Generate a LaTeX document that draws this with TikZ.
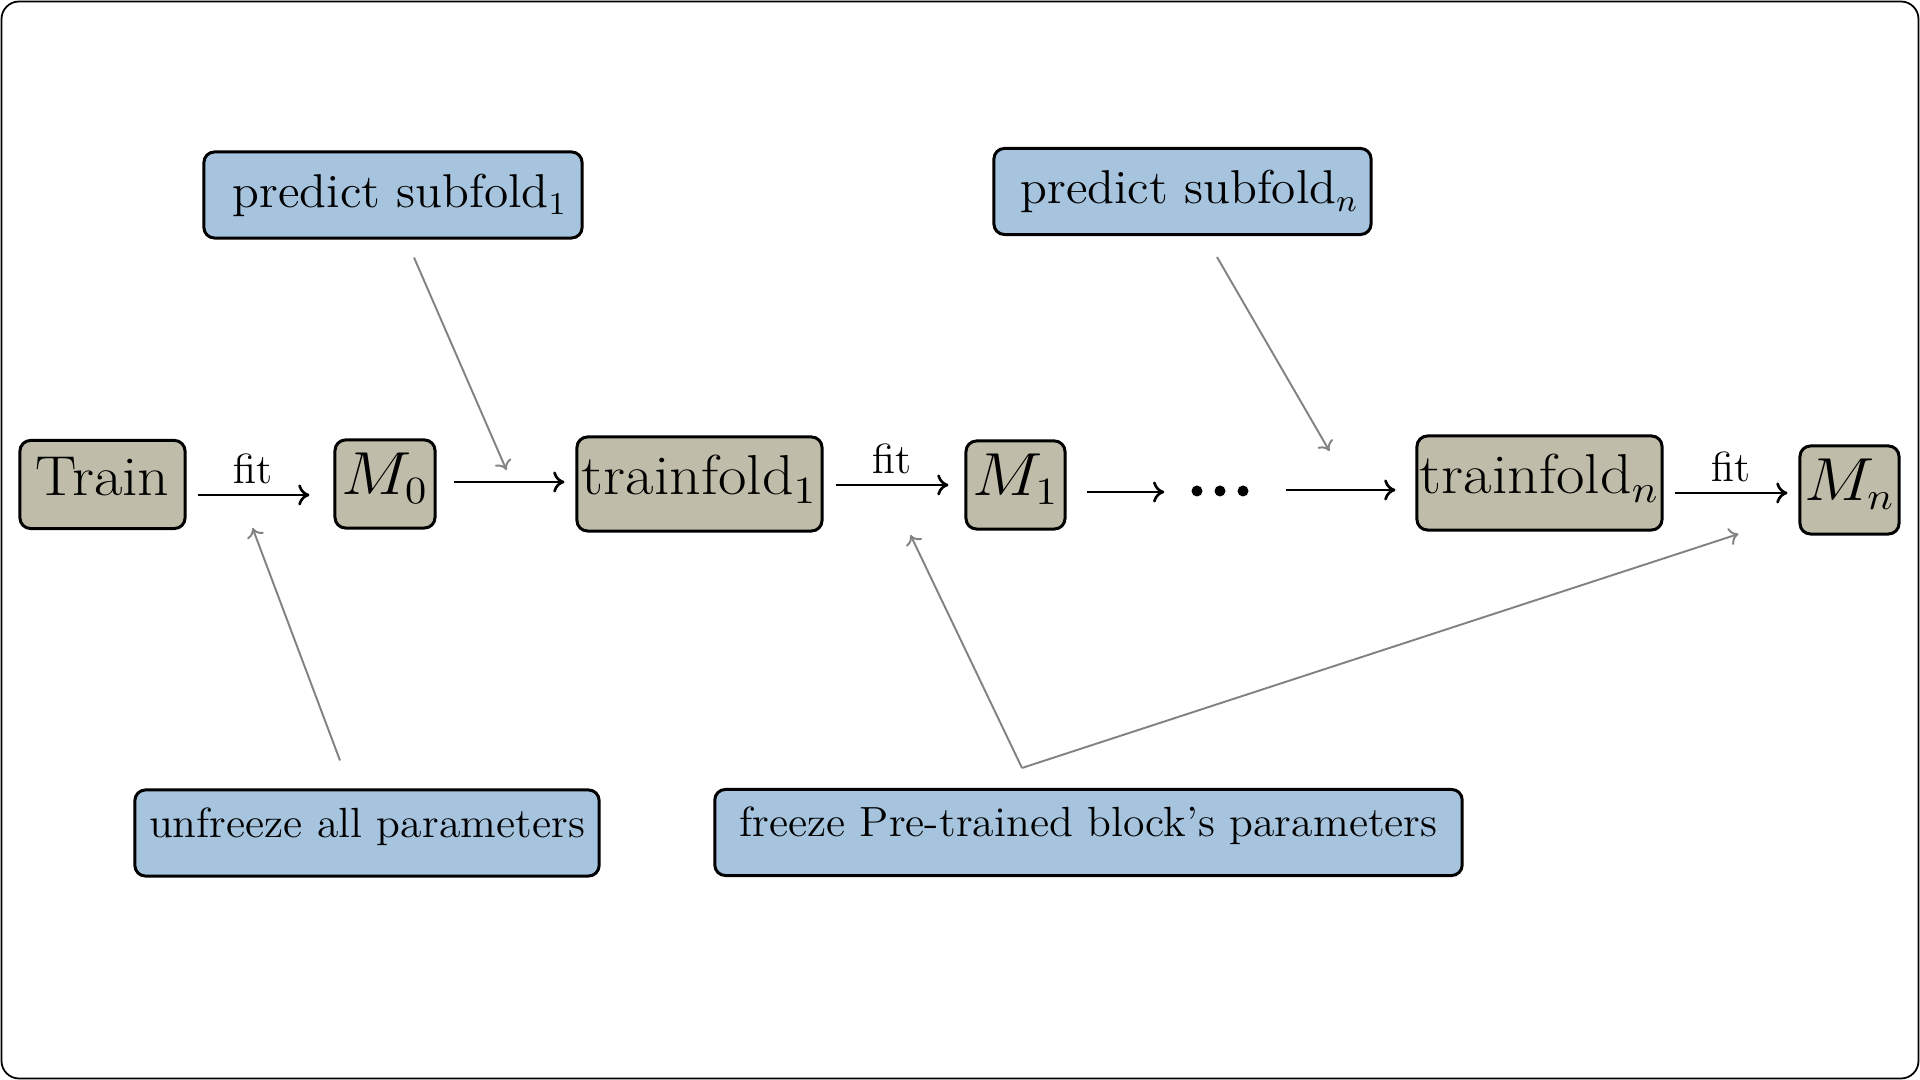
\documentclass[tikz,border=0pt]{standalone}
\usepackage{graphicx}
\usetikzlibrary{calc,arrows.meta}
\definecolor{tanfill}{RGB}{191,189,169}
\definecolor{bluefill}{RGB}{167,196,223}
\definecolor{arrgray}{RGB}{130,130,130}
\newcommand{\wideM}[1]{\scalebox{1.1}[1]{#1}}
\newcommand{\wideN}[1]{\scalebox{1.04}[1]{#1}}
\begin{document}
\begin{tikzpicture}[x=0.01cm,y=-0.01cm,
  mainbox/.style={draw=black,line width=0.85pt,rounded corners=3pt,fill=tanfill,inner sep=0pt,
    font=\fontsize{16}{19}\selectfont,text height=.7em,text depth=.1em,minimum height=0.88cm},
  notebox/.style={draw=black,line width=0.85pt,rounded corners=3pt,fill=bluefill,inner sep=0pt,minimum height=0.86cm},
  flow/.style={line width=0.75pt,-{To[length=3.2pt,width=6pt]}},
  hint/.style={arrgray,line width=0.55pt,-{To[length=2.6pt,width=5pt]}},
  fitlbl/.style={above,inner sep=2.7pt,font=\fontsize{12}{14}\selectfont}]
\useasboundingbox (0,0) rectangle (1920,1080);
\draw[line width=0.5pt,rounded corners=5pt] (1.5,1.5) rectangle (1918.5,1078.5);

% main chain
\node[mainbox,minimum width=1.65cm] (train) at (102.5,484.5) {\wideM{Train}};
\node[mainbox,minimum width=1.0cm] (m0) at (385,484) {\wideM{$M_0$}};
\node[mainbox,minimum width=2.45cm,minimum height=0.94cm] (tf1) at (699.5,484) {\wideM{trainfold$_1$}};
\node[mainbox,minimum width=0.99cm] (m1) at (1015.5,485) {\wideM{$M_1$}};
\node[inner sep=0pt,minimum width=0.6cm,minimum height=0.14cm] (dots) at (1220,491) {};
\fill (dots.center) circle (5.5) ($(dots.center)+(-23,0)$) circle (5.5) ($(dots.center)+(23,0)$) circle (5.5);
\node[mainbox,minimum width=2.45cm,minimum height=0.94cm] (tfn) at (1539.5,483) {\wideM{trainfold$_n$}};
\node[mainbox,minimum width=0.99cm] (mn) at (1849.5,490) {\wideM{$M_n$}};

% note boxes
\node[notebox,minimum width=3.78cm,font=\fontsize{13.5}{16}\selectfont] (p1) at (393,195) {\hspace*{0.14cm}\wideN{predict subfold$_1$}};
\node[notebox,minimum width=3.77cm,font=\fontsize{13.5}{16}\selectfont] (pn) at (1182.5,191.5) {\hspace*{0.14cm}\wideN{predict subfold$_n$}};
\node[notebox,minimum width=4.64cm,font=\fontsize{12}{14}\selectfont,text height=.7em,text depth=.45em] (unf) at (367,833) {\wideN{unfreeze all parameters}};
\node[notebox,minimum width=7.47cm,font=\fontsize{12}{14}\selectfont,text height=.7em,text depth=.45em] (frz) at (1088.5,832.5) {\wideN{freeze Pre-trained block's parameters}};

% flow arrows
\draw[flow] ($(train.east)+(11,10.5)$) -- node[fitlbl] (fit0) {fit} ($(m0.west)+(-24,11)$);
\draw[flow] ($(m0.east)+(17,-2)$) -- ($(tf1.west)+(-11,-2)$);
\draw[flow] ($(tf1.east)+(12,1)$) -- node[fitlbl] (fit1) {fit} ($(m1.west)+(-16,0)$);
\draw[flow] ($(m1.east)+(20,7)$) -- ($(dots.west)+(-25,1)$);
\draw[flow] ($(dots.east)+(35,-1)$) -- ($(tfn.west)+(-20,7)$);
\draw[flow] ($(tfn.east)+(11,10)$) -- node[fitlbl] (fitn) {fit} ($(mn.west)+(-11,3)$);

% hint arrows
\coordinate (h1) at ($(tf1.west)+(-69,-14)$);
\coordinate (hn) at ($(tfn.west)+(-86,-32)$);
\coordinate (hu) at ($(train.east)+(66,43.5)$);
\coordinate (hf1) at ($(m1.west)+(-54,50)$);
\coordinate (hf2) at ($(mn.west)+(-60,44)$);
\coordinate (fj) at ($(frz.north)+(-66.5,-20)$);
\draw[hint] ($(p1.south)+(21,18)$) -- (h1);
\draw[hint] ($(pn.south)+(34.5,21)$) -- (hn);
\draw[hint] ($(unf.north)+(-27,-28)$) -- (hu);
\draw[hint] (fj) -- (hf1);
\draw[hint] (fj) -- (hf2);
\end{tikzpicture}
\end{document}
